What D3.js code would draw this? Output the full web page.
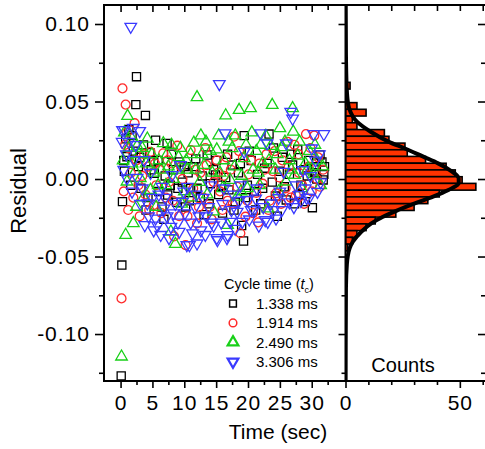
<!DOCTYPE html>
<html><head><meta charset="utf-8">
<script src="https://cdn.jsdelivr.net/npm/d3@7"></script>
<style>
html,body{margin:0;padding:0;background:#fff;}
svg{display:block;font-family:"Liberation Sans",Arial,Helvetica,sans-serif;}
</style></head>
<body>
<svg id="chart" width="485" height="449"></svg>
<script>
// ---------- DATA ----------
// Residual vs time (sec) for each cycle time, as [time, residual]
const series138 = [[0.1,-0.127],[0.2,-0.0555],[0.3,-0.0146],[0.5,0.012],[0.8,0.026],[1.0,0.0144],[1.3,0.032],[1.6,-0.004],[2.0,0.018],[2.4,0.048],[2.5,0.066],[2.8,0.008],[3.2,-0.006],[3.6,0.022],[3.9,0.041],[4.3,-0.012],[4.8,0.006],[5.2,0.011],[5.3,0.0037],[5.5,0.025],[6.0,-0.008],[6.5,-0.018],[7.0,0.002],[7.3,0.023],[7.4,-0.0103],[7.8,-0.004],[8.3,0.006],[8.8,-0.015],[9.2,0.011],[9.7,-0.002],[10.2,-0.018],[10.6,0.004],[11.0,-0.006],[11.5,0.008],[12.0,-0.006],[12.5,-0.012],[13.1,-0.023],[13.6,0.0155],[14.1,-0.003],[14.6,0.006],[14.9,0.0026],[15.4,-0.01],[16.0,-0.022],[16.5,0.001],[17.0,-0.007],[17.5,0.009],[18.0,-0.015],[18.5,0.004],[19.0,-0.03],[19.3,-0.040],[19.4,0.028],[19.9,-0.004],[20.5,0.012],[21.0,-0.008],[21.5,0.003],[22.0,-0.016],[22.6,0.007],[23.3,0.029],[23.8,-0.002],[24.3,-0.011],[24.9,0.005],[25.4,0.014],[26.0,-0.0135],[26.5,0.003],[27.0,0.009],[27.3,-0.016],[27.8,0.019],[28.3,-0.004],[28.8,0.006],[29.0,-0.0146],[29.5,0.012],[30.1,-0.0185],[30.4,0.004],[30.8,0.0],[31.3,0.0155],[31.6,0.011],[31.8,-0.0006],[32.0,0.008],
  [0.6,0.005],[1.8,0.028],[3.0,0.014],[4.0,-0.02],[4.6,0.017],[5.9,0.012],[6.8,-0.026],[8.0,0.016],[9.0,-0.006],[10.0,0.008],[10.8,-0.014],[11.8,0.013],[12.8,0.002],[13.9,-0.016],[15.0,0.012],[15.8,-0.004],[16.8,0.016],[17.8,-0.02],[18.8,0.01],[19.6,-0.012],[20.2,0.018],[21.2,-0.02],[22.3,-0.006],[23.0,0.01],[24.0,0.02],[24.6,-0.024],[25.7,-0.005],[26.8,0.016],[28.0,-0.01],[29.3,0.002],[30.6,0.008],[31.9,0.003]];
const series1914 = [[0.15,-0.077],[0.3,0.0585],[0.5,-0.008],[0.8,0.048],[1.0,0.03],[1.3,0.0198],[1.6,0.004],[2.0,-0.012],[2.5,0.012],[3.0,-0.024],[3.4,0.002],[3.9,-0.01],[4.3,0.008],[4.7,0.0176],[5.2,-0.0168],[5.6,-0.004],[6.1,0.006],[6.7,0.0166],[7.1,-0.012],[7.6,-0.002],[8.0,0.01],[8.4,-0.037],[8.9,0.0215],[9.2,-0.024],[9.7,0.0],[10.2,-0.0426],[10.5,-0.024],[11.0,0.0187],[11.4,-0.006],[12.0,-0.0286],[12.5,0.004],[13.0,-0.012],[13.5,0.009],[14.0,-0.018],[14.6,-0.002],[15.1,0.012],[15.6,-0.008],[16.2,0.002],[16.8,-0.014],[17.3,0.006],[17.8,0.0273],[18.3,-0.005],[18.8,-0.035],[19.2,0.014],[19.6,-0.0243],[20.1,0.003],[20.8,-0.022],[21.3,-0.009],[21.8,0.01],[22.3,-0.003],[22.9,0.016],[23.4,-0.014],[23.9,0.005],[24.4,-0.0092],[24.9,0.001],[25.4,0.012],[25.9,-0.006],[26.2,0.024],[26.7,-0.012],[27.3,0.022],[27.5,-0.0103],[28.0,0.004],[28.5,-0.004],[29.1,0.029],[29.5,0.008],[30.0,-0.008],[30.4,0.028],[30.8,0.0],[31.3,-0.005],[31.8,0.006],
  [0.7,0.022],[1.2,-0.02],[2.2,0.036],[2.8,-0.004],[3.7,0.016],[4.5,-0.02],[5.4,0.01],[6.4,-0.022],[7.4,0.012],[8.2,-0.014],[9.5,0.008],[10.8,-0.012],[11.7,0.006],[12.3,-0.018],[13.3,0.02],[14.3,-0.026],[15.3,0.004],[16.0,-0.02],[16.6,0.014],[17.6,-0.016],[18.6,0.018],[19.9,-0.014],[20.5,0.012],[21.6,-0.028],[22.6,0.006],[23.2,-0.02],[24.2,0.018],[25.2,-0.016],[26.4,0.008],[27.9,0.016],[28.8,-0.016],[29.8,0.02],[31.0,0.014]];
const series2490 = [[0.15,-0.1146],[0.4,0.012],[0.8,-0.0361],[1.0,-0.0017],[1.1,0.0406],[1.5,0.028],[2.0,-0.0286],[2.3,0.005],[2.6,0.0213],[2.9,0.016],[3.1,0.0005],[3.6,-0.012],[4.2,0.026],[4.7,-0.0071],[5.2,0.004],[5.6,-0.018],[6.0,0.012],[6.7,0.023],[7.1,-0.004],[7.5,0.008],[7.9,-0.034],[8.3,0.0],[8.6,-0.042],[9.1,0.014],[9.6,-0.016],[10.0,-0.008],[10.5,0.006],[11.0,0.016],[11.5,0.0234],[12.0,0.0527],[12.4,-0.002],[12.6,0.028],[13.1,0.009],[13.6,-0.01],[14.1,0.018],[14.6,-0.021],[15.1,0.019],[15.6,0.004],[16.0,-0.006],[16.5,0.041],[16.8,-0.0297],[17.2,-0.0006],[17.5,0.0198],[17.9,0.008],[18.3,-0.0114],[18.6,0.0445],[19.0,0.002],[19.4,0.0134],[19.9,-0.006],[20.4,0.0456],[20.8,0.006],[21.3,0.018],[21.8,-0.004],[22.3,0.0101],[22.8,0.0277],[23.1,-0.019],[23.6,0.0213],[23.8,0.0477],[24.3,0.006],[24.8,-0.008],[25.0,0.0327],[25.4,0.0205],[26.0,-0.0017],[26.5,0.012],[27.0,0.0456],[27.1,0.0305],[27.3,0.0026],[27.8,0.015],[28.4,-0.006],[29.0,0.01],[29.6,0.018],[30.2,0.003],[30.8,0.012],[31.4,-0.004],
  [0.6,0.03],[1.3,0.02],[1.8,0.01],[2.5,-0.018],[3.4,0.02],[4.0,0.01],[4.9,0.016],[5.9,-0.004],[6.4,0.006],[7.3,0.016],[8.0,0.022],[8.8,0.006],[9.4,0.02],[10.3,0.012],[11.2,-0.012],[11.8,0.006],[12.8,0.016],[13.4,0.024],[14.4,0.004],[15.4,0.028],[16.2,0.012],[17.0,0.024],[18.0,0.028],[18.9,-0.008],[19.7,0.022],[20.6,0.03],[21.6,0.004],[22.0,0.022],[23.3,0.012],[24.6,0.016],[25.8,0.024],[26.8,0.006],[28.1,0.024],[29.3,0.006],[30.5,0.022],[31.7,0.008]];
const series3306 = [[0.25,0.024],[0.3,0.0316],[0.6,0.0316],[0.9,0.016],[1.0,0.0005],[1.6,0.0983],[2.0,0.033],[2.1,0.0123],[2.6,0.0008],[3.0,0.031],[3.4,-0.006],[3.7,0.0123],[3.8,-0.0297],[4.2,-0.0157],[4.7,0.004],[5.2,-0.033],[5.5,-0.0254],[6.0,-0.01],[6.5,-0.005],[6.8,-0.019],[7.3,-0.024],[7.9,-0.0308],[8.1,0.0026],[8.6,-0.016],[9.0,-0.028],[9.4,0.009],[9.7,-0.0146],[10.1,-0.022],[10.4,-0.0426],[10.5,-0.005],[10.8,-0.0426],[11.3,-0.035],[11.7,-0.018],[12.0,-0.0415],[12.6,-0.033],[13.0,-0.012],[13.5,-0.024],[14.1,-0.004],[14.6,-0.03],[15.1,-0.038],[15.2,-0.0394],[15.5,0.0613],[16.0,-0.016],[16.2,-0.006],[16.4,0.0295],[16.7,-0.038],[16.8,-0.0361],[17.2,-0.0275],[17.7,-0.01],[18.3,-0.0211],[18.8,-0.004],[19.1,-0.0275],[19.4,0.0176],[19.9,-0.0135],[20.5,-0.02],[21.2,-0.0125],[21.7,-0.03],[22.0,0.0295],[22.7,-0.0265],[23.0,0.023],[23.1,-0.0275],[23.6,-0.0157],[24.4,-0.0254],[25.0,-0.008],[25.6,0.0047],[26.0,0.023],[26.5,-0.015],[26.7,0.0434],[27.0,0.039],[27.5,-0.004],[28.0,-0.0103],[28.6,0.0058],[29.2,-0.012],[29.8,0.002],[30.0,0.0198],[30.3,0.029],[30.9,-0.0082],[31.4,-0.002],[31.9,0.029],
  [0.5,0.006],[1.3,0.024],[1.8,-0.008],[2.4,0.022],[3.1,-0.016],[4.4,-0.024],[5.0,-0.012],[5.8,-0.03],[6.3,-0.036],[7.0,-0.012],[7.6,-0.038],[8.3,-0.022],[9.2,-0.034],[9.9,-0.008],[11.0,-0.028],[11.9,-0.01],[12.3,-0.024],[13.3,-0.036],[13.8,-0.018],[14.3,-0.028],[15.8,-0.028],[17.4,-0.02],[18.0,-0.032],[18.6,-0.014],[20.2,-0.026],[20.9,-0.02],[21.4,-0.006],[22.4,-0.018],[24.0,-0.02],[24.8,-0.012],[25.3,-0.02],[27.2,-0.018],[28.3,-0.014],[29.0,-0.006],[29.6,-0.012],[30.6,0.012],[31.2,0.016]];

const seriesNames = ["1.338 ms","1.914 ms","2.490 ms","3.306 ms"];

// Histogram of residuals: bin centres (residual) and counts
const binCenters = [0.0602,0.0558,0.0515,0.0471,0.0428,0.0384,0.0341,0.0297,0.0254,0.0210,0.0167,0.0124,0.0080,0.0037,-0.0007,-0.0050,-0.0094,-0.0137,-0.0181,-0.0224,-0.0268,-0.0311,-0.0355,-0.0398,-0.0442];
const binCounts  = [2,0,0,5,9,3,5,17,19,26,27,35,44,48,51,57,41,36,30,22,13,9,5,3,1];
const binWidth = 0.00435;

// Gaussian fit curve: [residual, count]
const fitCurve = [[0.112,0.1],[0.08,0.2],[0.06,0.5],[0.050,1.0],[0.0456,1.6],[0.037,5],[0.0305,11],[0.024,19],[0.0197,26],[0.0144,34],[0.0101,40.5],[0.0058,45.6],[0.0004,49.5],[-0.0028,49.5],[-0.0071,45],[-0.0114,38.3],[-0.0157,30.3],[-0.0200,23],[-0.0243,16.4],[-0.0286,11.3],[-0.0340,6.9],[-0.0405,3.2],[-0.0448,1.8],[-0.055,0.6],[-0.07,0.2],[-0.1303,0.05]];

// Ticks
const yMajor = [-0.10,-0.05,0.00,0.05,0.10];
const yMajorLabels = ["-0.10","-0.05","0.00","0.05","0.10"];
const yMinor = [-0.125,-0.075,-0.025,0.025,0.075];
const tMajor = [0,5,10,15,20,25,30];
const tMinor = [2.5,7.5,12.5,17.5,22.5,27.5,32.5];
const cMajor = [0,50];
const cMinor = [10,20,30,40,60];

// ---------- CHART ----------
const svg = d3.select("#chart");
const P = {x0:104, x1:345.5, y0:5, y1:381};
const Hx1 = 485;

const y = d3.scaleLinear().domain([-0.1303, 0.11226]).range([P.y1, P.y0]);
const xt = d3.scaleLinear().domain([-2.6, 35.3]).range([P.x0, P.x1]);
const xc = d3.scaleLinear().domain([0, 61]).range([P.x1, Hx1]);

const colors = ["#000000","#ff2a2a","#18d018","#3a3aff"];
const sym = [d3.symbolSquare, d3.symbolCircle, d3.symbolTriangle, d3.symbolTriangle];
const sizes = [66, 62, 58, 58];
const rot = [0,0,0,180];
const allSeries = [series138, series1914, series2490, series3306];

// clip for scatter
svg.append("clipPath").attr("id","clipS").append("rect")
  .attr("x",P.x0).attr("y",P.y0).attr("width",P.x1-P.x0).attr("height",P.y1-P.y0);
svg.append("clipPath").attr("id","clipH").append("rect")
  .attr("x",P.x1).attr("y",P.y0).attr("width",Hx1-P.x1).attr("height",P.y1-P.y0);

// scatter points
const gS = svg.append("g").attr("clip-path","url(#clipS)");
allSeries.forEach((s,i)=>{
  gS.append("g").selectAll("path").data(s).join("path")
    .attr("d", d3.symbol().type(sym[i]).size(sizes[i]))
    .attr("transform", d=>`translate(${xt(d[0])},${y(d[1])}) rotate(${rot[i]})`)
    .attr("fill","none").attr("stroke",colors[i]).attr("stroke-width",1.3);
});

// histogram
const gH = svg.append("g").attr("clip-path","url(#clipH)");
gH.selectAll("rect").data(binCenters.map((c,i)=>({c, n:binCounts[i]})).filter(d=>d.n>0)).join("rect")
  .attr("x", xc(0))
  .attr("y", d=>y(d.c + binWidth/2))
  .attr("width", d=>xc(d.n)-xc(0))
  .attr("height", d=>y(d.c - binWidth/2)-y(d.c + binWidth/2))
  .attr("fill","#ff3300").attr("stroke","#000").attr("stroke-width",1.6);

gH.append("path").datum(fitCurve)
  .attr("d", d3.line().x(d=>xc(d[1])).y(d=>y(d[0])).curve(d3.curveMonotoneY))
  .attr("fill","none").attr("stroke","#000").attr("stroke-width",4).attr("stroke-linejoin","round");

// axes helper
function styleAxis(g){
  g.select(".domain").remove();
  g.selectAll(".tick line").attr("stroke","#000").attr("stroke-width",1.6);
  g.selectAll(".tick text").attr("fill","#000").attr("font-size",21).attr("letter-spacing","1px")
   .attr("font-family","'Liberation Sans',Arial,sans-serif");
}
const fmtY = v => yMajorLabels[yMajor.indexOf(v)];

// left y axis
svg.append("g").attr("transform",`translate(${P.x0},0)`)
  .call(d3.axisLeft(y).tickValues(yMajor).tickSize(9).tickPadding(5).tickFormat(fmtY)).call(styleAxis);
svg.append("g").attr("transform",`translate(${P.x0},0)`)
  .call(d3.axisLeft(y).tickValues(yMinor).tickSize(5).tickFormat("")).call(styleAxis);
// shared border ticks (pointing into scatter)
svg.append("g").attr("transform",`translate(${P.x1},0)`)
  .call(d3.axisLeft(y).tickValues(yMajor).tickSize(7).tickFormat("")).call(styleAxis);
svg.append("g").attr("transform",`translate(${P.x1},0)`)
  .call(d3.axisLeft(y).tickValues(yMinor).tickSize(4).tickFormat("")).call(styleAxis);
// histogram right ticks
svg.append("g").attr("transform",`translate(${Hx1},0)`)
  .call(d3.axisLeft(y).tickValues(yMajor).tickSize(7).tickFormat("")).call(styleAxis);
svg.append("g").attr("transform",`translate(${Hx1},0)`)
  .call(d3.axisLeft(y).tickValues(yMinor).tickSize(4).tickFormat("")).call(styleAxis);

// time axis bottom / top
svg.append("g").attr("transform",`translate(0,${P.y1})`)
  .call(d3.axisBottom(xt).tickValues(tMajor).tickSize(7).tickPadding(7).tickFormat(d3.format("d"))).call(styleAxis);
svg.append("g").attr("transform",`translate(0,${P.y1})`)
  .call(d3.axisBottom(xt).tickValues(tMinor).tickSize(4).tickFormat("")).call(styleAxis);
svg.append("g").attr("transform",`translate(0,${P.y0})`)
  .call(d3.axisTop(xt).tickValues(tMajor).tickSize(-7).tickFormat("")).call(styleAxis);
svg.append("g").attr("transform",`translate(0,${P.y0})`)
  .call(d3.axisTop(xt).tickValues(tMinor).tickSize(-5).tickFormat("")).call(styleAxis);

// counts axis bottom / top
svg.append("g").attr("transform",`translate(0,${P.y1})`)
  .call(d3.axisBottom(xc).tickValues(cMajor).tickSize(7).tickPadding(7).tickFormat(d3.format("d"))).call(styleAxis);
svg.append("g").attr("transform",`translate(0,${P.y1})`)
  .call(d3.axisBottom(xc).tickValues(cMinor).tickSize(4).tickFormat("")).call(styleAxis);
svg.append("g").attr("transform",`translate(0,${P.y0})`)
  .call(d3.axisTop(xc).tickValues(cMinor.concat([50])).tickSize(-6).tickFormat("")).call(styleAxis);

// frames
svg.append("rect").attr("x",P.x0).attr("y",P.y0).attr("width",P.x1-P.x0).attr("height",P.y1-P.y0)
  .attr("fill","none").attr("stroke","#000").attr("stroke-width",2);
svg.append("line").attr("x1",P.x1).attr("x2",Hx1).attr("y1",P.y0).attr("y2",P.y0).attr("stroke","#000").attr("stroke-width",2);
svg.append("line").attr("x1",P.x1).attr("x2",Hx1).attr("y1",P.y1).attr("y2",P.y1).attr("stroke","#000").attr("stroke-width",2);

// axis titles
svg.append("text").attr("transform","translate(26,191) rotate(-90)").attr("text-anchor","middle")
  .attr("font-size",22).text("Residual");
svg.append("text").attr("x",278).attr("y",439).attr("text-anchor","middle")
  .attr("font-size",21).text("Time (sec)");
svg.append("text").attr("x",403).attr("y",372).attr("text-anchor","middle")
  .attr("font-size",20).text("Counts");

// legend
const lg = svg.append("g");
const lt = lg.append("text").attr("x",224).attr("y",289).attr("font-size",14.5);
lt.append("tspan").text("Cycle time (");
lt.append("tspan").attr("font-style","italic").text("t");
lt.append("tspan").attr("font-size",9).attr("dy",4).text("c");
lt.append("tspan").attr("dy",-4).text(")");
seriesNames.forEach((name,i)=>{
  const cy = 303.5 + i*19.4;
  lg.append("path").attr("d", d3.symbol().type(sym[i]).size(i>=2 ? 50 : 46))
    .attr("transform",`translate(233,${cy}) rotate(${rot[i]})`)
    .attr("fill","none").attr("stroke",colors[i]).attr("stroke-width", i>=2 ? 2.2 : 1.5);
  lg.append("text").attr("x",256).attr("y",cy+5.5).attr("font-size",15).text(name);
});
</script>
</body></html>
